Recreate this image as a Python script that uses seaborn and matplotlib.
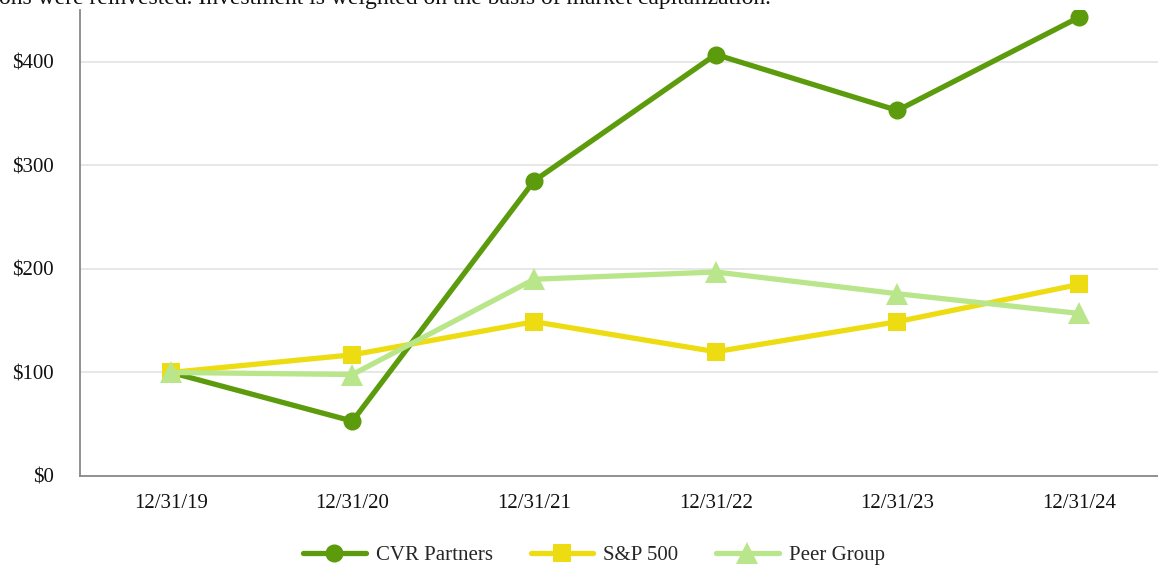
import matplotlib
matplotlib.use("Agg")
import matplotlib.pyplot as plt
import seaborn as sns
import pandas as pd
from matplotlib.lines import Line2D

dates = ["12/31/19", "12/31/20", "12/31/21", "12/31/22", "12/31/23", "12/31/24"]
cvr = [100, 53, 285, 407, 353, 443]
sp500 = [100, 117, 149, 120, 149, 185]
peer = [100, 98, 190, 197, 176, 157]
series_names = ["CVR Partners", "S&P 500", "Peer Group"]
yticks = [0, 100, 200, 300, 400]
ytick_labels = ["$0", "$100", "$200", "$300", "$400"]
note = "ons were reinvested. Investment is weighted on the basis of market capitalization."

colors = {"CVR Partners": "#5b9b0c", "S&P 500": "#eedc12", "Peer Group": "#b9e68a"}
markers = {"CVR Partners": "o", "S&P 500": "s", "Peer Group": "^"}
msizes = {"CVR Partners": 13, "S&P 500": 12.5, "Peer Group": 16}

df = pd.DataFrame({
    "date": dates * 3,
    "value": cvr + sp500 + peer,
    "series": [series_names[0]] * 6 + [series_names[1]] * 6 + [series_names[2]] * 6,
})
df["x"] = list(range(len(dates))) * 3

sns.set_theme(style="white")
plt.rcParams["font.family"] = ["Liberation Serif", "DejaVu Serif"]

fig = plt.figure(figsize=(11.58, 5.66), dpi=100)
ax = fig.add_axes([80 / 1158, 1 - 476 / 566, 1 - 80 / 1158, (476 - 10) / 566])

for name in series_names:
    sub = df[df["series"] == name]
    sns.lineplot(data=sub, x="x", y="value", ax=ax, color=colors[name],
                 marker=markers[name], markersize=msizes[name], markeredgewidth=0,
                 linewidth=3.8, sort=False, legend=False)

ax.set_xlim(-0.5, (1158 - 170) / 181.8)
ax.set_ylim(0, 450)
ax.set_xticks(range(len(dates)))
ax.set_xticklabels(dates, fontsize=15)
ax.set_yticks(yticks)
ax.set_yticklabels(ytick_labels, fontsize=15)
ax.set_xlabel("")
ax.set_ylabel("")
ax.yaxis.grid(True, color="#e3e3e3", linewidth=1.2)
ax.xaxis.grid(False)
ax.set_axisbelow(True)
ax.tick_params(axis="both", length=0, colors="#111111")
ax.tick_params(axis="x", pad=13)
ax.tick_params(axis="y", pad=19)
for s in ["top", "right"]:
    ax.spines[s].set_visible(False)
for s in ["left", "bottom"]:
    ax.spines[s].set_color("#888888")
    ax.spines[s].set_linewidth(1.3)

handles = [Line2D([0], [0], color=colors[n], marker=markers[n], markersize=msizes[n],
                  markeredgewidth=0, linewidth=3.8) for n in series_names]
fig.legend(handles, series_names, loc="center", bbox_to_anchor=(0.513, 1 - 555 / 566),
           ncol=3, frameon=False, fontsize=15, handlelength=3.0, columnspacing=1.8,
           handletextpad=0.5)

fig.text(-0.001, 1 - 4 / 566, note, fontsize=17, va="baseline", ha="left", color="#111111")

fig.savefig("out.png", dpi=100)
